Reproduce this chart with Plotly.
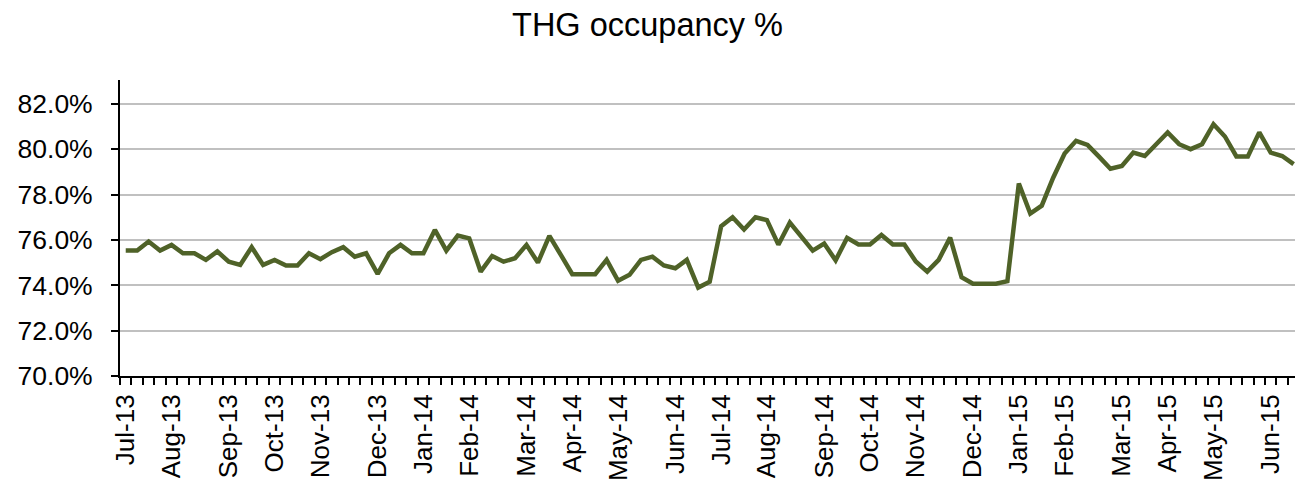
import plotly.graph_objects as go

# Month labels and number of weeks in each month (4-5-4 retail calendar)
months = ["Jul-13", "Aug-13", "Sep-13", "Oct-13", "Nov-13", "Dec-13", "Jan-14", "Feb-14",
          "Mar-14", "Apr-14", "May-14", "Jun-14", "Jul-14", "Aug-14", "Sep-14", "Oct-14",
          "Nov-14", "Dec-14", "Jan-15", "Feb-15", "Mar-15", "Apr-15", "May-15", "Jun-15"]
weeks_per_month = [4, 5, 4, 4, 5, 4, 4, 5, 4, 4, 5, 4,
                   4, 5, 4, 4, 5, 4, 4, 5, 4, 4, 5, 3]

# Weekly occupancy (%)
occupancy = [
    75.53, 75.53, 75.93, 75.53, 75.78, 75.41, 75.41, 75.12, 75.49, 75.04,
    74.90, 75.68, 74.90, 75.12, 74.87, 74.87, 75.41, 75.15, 75.46, 75.68,
    75.26, 75.41, 74.50, 75.41, 75.78, 75.41, 75.41, 76.44, 75.53, 76.19,
    76.07, 74.60, 75.29, 75.04, 75.19, 75.78, 75.00, 76.18, 75.34, 74.49,
    74.49, 74.49, 75.12, 74.20, 74.46, 75.12, 75.26, 74.87, 74.75, 75.12,
    73.90, 74.16, 76.60, 77.00, 76.46, 77.00, 76.87, 75.79, 76.76, 76.16,
    75.53, 75.84, 75.10, 76.09, 75.80, 75.80, 76.22, 75.80, 75.80, 75.05,
    74.60, 75.12, 76.10, 74.35, 74.07, 74.07, 74.07, 74.18, 78.49, 77.16,
    77.51, 78.74, 79.81, 80.37, 80.19, 79.67, 79.14, 79.26, 79.85, 79.70,
    80.22, 80.74, 80.22, 80.00, 80.22, 81.10, 80.56, 79.68, 79.68, 80.74,
    79.85, 79.70, 79.34,
]

# Y axis tick values (%)
y_ticks = [70, 72, 74, 76, 78, 80, 82]

week_idx = list(range(len(occupancy)))
tick_pos = []
start = 0
for n in weeks_per_month:
    tick_pos.append(start)
    start += n

FONT = "Liberation Sans, Arial, sans-serif"

fig = go.Figure()
fig.add_trace(go.Scatter(
    x=week_idx, y=occupancy, mode="lines",
    line=dict(color="#4f6228", width=4.5),
    hoverinfo="skip", showlegend=False,
))

fig.update_layout(
    width=1295, height=489,
    paper_bgcolor="white", plot_bgcolor="white",
    margin=dict(l=120, r=0, t=80, b=113),
    title=dict(text="THG occupancy %", x=0.5, xanchor="center",
               y=1 - 25 / 489, yanchor="middle",
               font=dict(family=FONT, size=32.5, color="black")),
    font=dict(family=FONT, color="black"),
)

fig.update_xaxes(
    range=[-0.5, 102.12],
    tickmode="array", tickvals=tick_pos, ticktext=months,
    tickangle=-90, ticks="", tickfont=dict(size=26, color="black"),
    showgrid=False, zeroline=False,
    showline=True, linecolor="black", linewidth=2,
    minor=dict(ticks="outside", tick0=-0.5, dtick=1, ticklen=7,
               tickwidth=2, tickcolor="black", showgrid=False),
    ticklabelstandoff=6,
)

fig.update_yaxes(
    range=[70, 83.05],
    tickmode="array", tickvals=y_ticks,
    ticktext=[f"{v:.1f}%" for v in y_ticks],
    ticks="outside", ticklen=7, tickwidth=2, tickcolor="black",
    tickfont=dict(size=26.5, color="black"),
    showgrid=True, gridcolor="#c0c0c0", gridwidth=2,
    zeroline=False, showline=True, linecolor="black", linewidth=2,
    ticklabelstandoff=13,
)

fig.write_html("out.html",
               config={"displayModeBar": False},
               post_script="document.body.style.margin='0';document.body.style.overflow='hidden';")
